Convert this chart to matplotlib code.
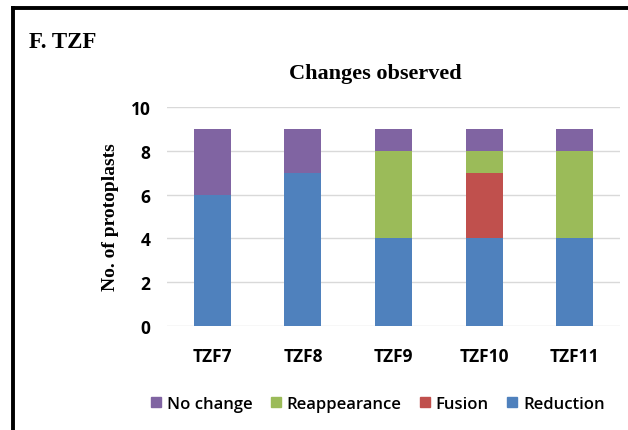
import matplotlib
matplotlib.use("Agg")
import matplotlib.pyplot as plt
from matplotlib.patches import Rectangle
from matplotlib.lines import Line2D

categories = ["TZF7", "TZF8", "TZF9", "TZF10", "TZF11"]
reduction = [6, 7, 4, 4, 4]
fusion = [0, 0, 0, 3, 0]
reappearance = [0, 0, 4, 1, 4]
no_change = [3, 2, 1, 1, 1]
y_ticks = [0, 2, 4, 6, 8, 10]

colors = {
    "Reduction": "#4F81BD",
    "Fusion": "#C0504D",
    "Reappearance": "#9BBB59",
    "No change": "#8064A2",
}

W, H = 628, 431
fig = plt.figure(figsize=(W / 100, H / 100), dpi=100)

# outer frame (top and left edges)
fig.add_artist(Line2D([13 / W, 13 / W], [0, 1 - 9 / H], transform=fig.transFigure,
                      color="black", lw=2.8))
fig.add_artist(Line2D([13 / W, 1], [1 - 9 / H, 1 - 9 / H], transform=fig.transFigure,
                      color="black", lw=2.8))

ax_left, ax_right = 167 / W, 620 / W
ax_bottom, ax_top = 1 - 327 / H, 1 - 108 / H
ax = fig.add_axes([ax_left, ax_bottom, ax_right - ax_left, ax_top - ax_bottom])

x = list(range(len(categories)))
bw = 0.41
bottom = [0] * len(categories)
for name, vals in [("Reduction", reduction), ("Fusion", fusion),
                   ("Reappearance", reappearance), ("No change", no_change)]:
    ax.bar(x, vals, bw, bottom=bottom, color=colors[name], zorder=3)
    bottom = [b + v for b, v in zip(bottom, vals)]

ax.set_xlim(-0.5, len(categories) - 0.5)
ax.set_ylim(0, 10)
ax.set_yticks(y_ticks)
ax.grid(axis="y", color="#d9d9d9", lw=1, zorder=0)
for s in ax.spines.values():
    s.set_visible(False)
ax.tick_params(length=0)
ax.set_xticks(x)
ax.set_xticklabels(categories, fontsize=12.5, fontweight="bold", family="Open Sans")
for lbl in ax.get_yticklabels():
    lbl.set_fontsize(12.5)
    lbl.set_fontweight("bold")
    lbl.set_family("Open Sans")
ax.tick_params(axis="x", pad=15)
ax.tick_params(axis="y", pad=12)

ax.set_ylabel("No. of protoplasts", fontsize=14, fontweight="bold",
              family="Liberation Serif", labelpad=8)

fig.text(375 / W, 1 - 74 / H, "Changes observed", ha="center", va="center",
         fontsize=16, fontweight="bold", family="Liberation Serif")
fig.text(29 / W, 1 - 42 / H, "F. TZF", ha="left", va="center",
         fontsize=16.5, fontweight="bold", family="Liberation Serif")

handles = [Rectangle((0, 0), 1, 1, color=colors[n]) for n in
           ["No change", "Reappearance", "Fusion", "Reduction"]]
fig.legend(handles, ["No change", "Reappearance", "Fusion", "Reduction"],
           loc="center", bbox_to_anchor=(378 / W, 1 - 405 / H), ncol=4,
           frameon=False, handlelength=0.6, handleheight=0.6, handletextpad=0.35,
           columnspacing=1.1, prop={"family": "Open Sans", "size": 12, "weight": "semibold"})

fig.savefig("out.png", dpi=100)
